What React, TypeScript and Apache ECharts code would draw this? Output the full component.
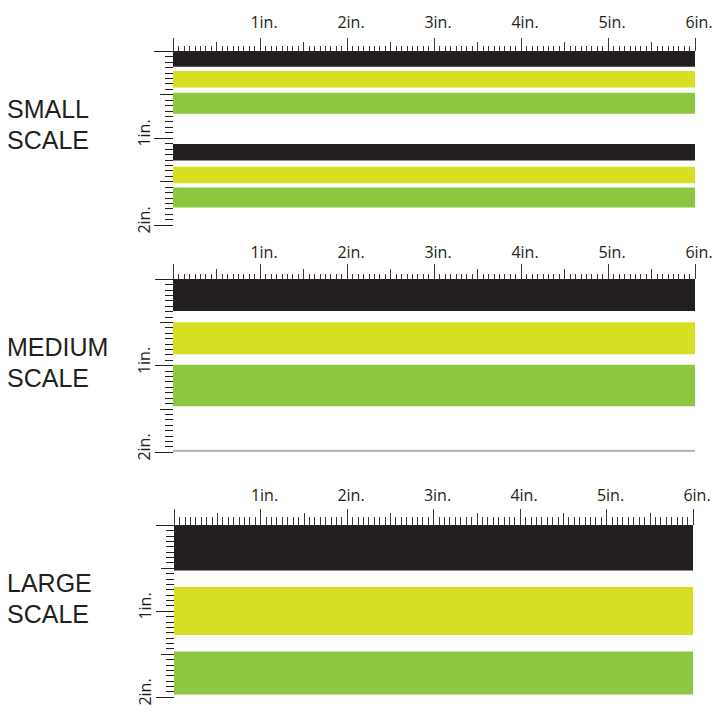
import React, { useEffect, useRef } from 'react';
import * as echarts from 'echarts';

// Data (inches)
const xRange = [0, 6];
const yRange = [0, 2];
const stripeColors = ['#231f20', '#d7df23', '#8dc63f', '#b8b8b8'];
const scaleNames = ['SMALL\nSCALE', 'MEDIUM\nSCALE', 'LARGE\nSCALE'];
// [start, end, colorIndex]
const smallStripes = [
  [0, 0.18, 0], [0.23, 0.42, 1], [0.48, 0.72, 2],
  [1.07, 1.26, 0], [1.33, 1.52, 1], [1.57, 1.8, 2],
];
const mediumStripes = [
  [0, 0.37, 0], [0.5, 0.87, 1], [0.99, 1.47, 2], [1.975, 2.0, 3],
];
const largeStripes = [
  [0, 0.53, 0], [0.72, 1.28, 1], [1.47, 1.97, 2],
];
const panelStripes = [smallStripes, mediumStripes, largeStripes];

// Layout
const panels = [
  { top: 51, left: 173, width: 522, height: 174, xOff: 4, xTicks: [13, 9, 5], yTicks: [19, 13, 8], xMargin: 17, titleTop: 93 },
  { top: 279, left: 173, width: 522, height: 173, xOff: 2, xTicks: [15, 10, 5], yTicks: [18, 13, 8], xMargin: 17, titleTop: 331 },
  { top: 525, left: 174, width: 519, height: 172, xOff: 2, xTicks: [16, 12, 8], yTicks: [18, 13, 8], xMargin: 20, titleTop: 567 },
];

const ink = '#231f20';
const tickColor = '#3a3a3a';

export default function App() {
  const ref = useRef<HTMLDivElement>(null);
  useEffect(() => {
    if (!ref.current) return;
    const chart = echarts.init(ref.current, undefined, { renderer: 'svg' });
    const grid: any[] = [];
    const xAxis: any[] = [];
    const yAxis: any[] = [];
    const series: any[] = [];
    panels.forEach((p, i) => {
      grid.push({ left: p.left, top: p.top, width: p.width, height: p.height });
      xAxis.push({
        type: 'value', gridIndex: i, position: 'top', offset: p.xOff,
        min: xRange[0], max: xRange[1], interval: 1,
        axisLine: { show: false },
        axisTick: { show: true, length: p.xTicks[0], lineStyle: { color: tickColor, width: 1 } },
        minorTick: { show: true, splitNumber: 16, length: p.xTicks[2], lineStyle: { color: tickColor, width: 1 } },
        splitLine: { show: false },
        axisLabel: {
          show: true, margin: p.xMargin, color: ink, fontSize: 16, fontFamily: 'Open Sans',
          padding: [0, 0, 0, 8],
          formatter: (v: number) => (v === 0 ? '' : `${v}in.`),
        },
      });
      xAxis.push({
        type: 'value', gridIndex: i, position: 'top', offset: p.xOff,
        min: xRange[0], max: xRange[1], interval: 0.5,
        axisLine: { show: false },
        axisTick: { show: true, length: p.xTicks[1], lineStyle: { color: tickColor, width: 1 } },
        splitLine: { show: false }, axisLabel: { show: false },
      });
      yAxis.push({
        type: 'value', gridIndex: i, position: 'left', inverse: true, offset: 1,
        min: yRange[0], max: yRange[1], interval: 1,
        axisLine: { show: false },
        axisTick: { show: true, length: p.yTicks[0], lineStyle: { color: ink, width: 1 } },
        minorTick: { show: true, splitNumber: 16, length: p.yTicks[2], lineStyle: { color: ink, width: 1 } },
        splitLine: { show: false },
        axisLabel: {
          show: true, rotate: 90, margin: 20, color: ink, fontSize: 16, fontFamily: 'Open Sans',
          padding: [0, 0, 0, 10],
          formatter: (v: number) => (v === 0 ? '' : `${v}in.`),
        },
      });
      yAxis.push({
        type: 'value', gridIndex: i, position: 'left', inverse: true, offset: 1,
        min: yRange[0], max: yRange[1], interval: 0.5,
        axisLine: { show: false },
        axisTick: { show: true, length: p.yTicks[1], lineStyle: { color: ink, width: 1 } },
        splitLine: { show: false }, axisLabel: { show: false },
      });
      series.push({
        type: 'custom',
        xAxisIndex: i * 2,
        yAxisIndex: i * 2,
        data: panelStripes[i],
        encode: { y: [0, 1] },
        renderItem: (_params: any, api: any) => {
          const y0 = api.value(0);
          const y1 = api.value(1);
          const c = api.value(2);
          const p0 = api.coord([xRange[0], y0]);
          const p1 = api.coord([xRange[1], y1]);
          return {
            type: 'rect',
            shape: { x: p0[0], y: p0[1], width: p1[0] - p0[0], height: p1[1] - p0[1] },
            style: { fill: stripeColors[c] },
          };
        },
      });
    });

    chart.setOption({
      animation: false,
      backgroundColor: '#ffffff',
      title: scaleNames.map((t, i) => ({
        text: t, left: 7, top: panels[i].titleTop, padding: 0,
        textStyle: { fontSize: 25, fontWeight: 'normal', color: ink, fontFamily: 'Liberation Sans', lineHeight: 31 },
      })),
      grid, xAxis, yAxis, series,
    });
    return () => chart.dispose();
  }, []);
  return <div ref={ref} style={{ position: 'fixed', left: 0, top: 0, width: 720, height: 720 }} />;
}
